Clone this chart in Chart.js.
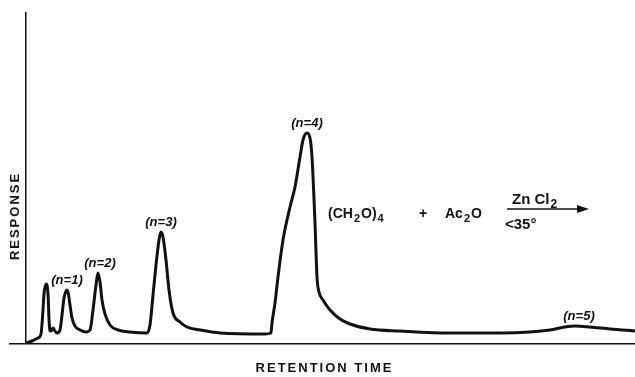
<!DOCTYPE html>
<html>
<head>
<meta charset="utf-8">
<script src="https://cdn.jsdelivr.net/npm/chart.js@4.4.1/dist/chart.umd.min.js"></script>
<style>
  html, body { margin: 0; padding: 0; background: #fff; }
  #wrap { width: 635px; height: 377px; position: relative; }
</style>
</head>
<body>
<div id="wrap"><canvas id="chart"></canvas></div>
<script>
/* Chromatogram of the (CH2O)4 + Ac2O reaction products, redrawn from the
 * paper figure. Time and response are in arbitrary units. */

const retentionTime = [
  0, 0.6, 1.2, 1.5, 1.7, 1.8, 2.0, 2.2, 2.3, 2.4, 2.6, 2.7, 2.9, 3.1,
  3.4, 3.6, 3.8, 4.0, 4.1, 4.2, 4.4, 4.6, 4.9, 5.4, 6.0,
  6.4, 6.7, 7.0, 7.2, 7.4, 7.6, 7.9, 8.4, 9.2, 10.4, 12.1,
  12.4, 12.7, 13.0, 13.3, 13.5, 13.7, 14.0, 14.3, 14.7, 15.4, 16.1, 17.4, 19.4, 23.9,
  24.5, 24.6, 24.9, 25.2, 25.7, 26.4, 26.9, 27.4, 27.7, 28.1, 28.4, 28.6, 28.9, 29.1,
  29.3, 29.7, 30.4, 31.4, 32.4, 34.4, 37.4, 42.4, 47.4,
  50.4, 52.4, 53.9, 54.9, 56.4, 58.4, 60.9
];
const response = [
  1, 3, 6, 10, 34, 50, 60, 50, 25, 13, 14, 16, 13, 11,
  14, 29, 46, 53, 54, 52, 39, 26, 18, 14, 12,
  14, 34, 59, 71, 62, 44, 30, 19, 14, 12, 11,
  19, 49, 79, 104, 112, 107, 84, 54, 31, 22, 17, 14, 11, 10,
  11, 21, 41, 67, 104, 137, 157, 187, 204, 211, 206, 187, 121, 67,
  52, 44, 34, 25, 20, 15, 13, 11, 11,
  12, 14, 17, 18, 17, 15, 13
];

// Peak labels, anchored at the top of each peak.
const peakLabels = ['(n=1)', '(n=2)', '(n=3)', '(n=4)', '(n=5)'];
const peakTimes  = [4.1, 7.4, 13.5, 28.1, 55.3];
const peakTops   = [54, 71, 112, 211, 18];

const xLabel = 'RETENTION TIME';
const yLabel = 'RESPONSE';

const points = retentionTime.map((t, i) => ({ x: t, y: response[i] }));

const INK = '#111';

// Draw a run of [text, isSubscript] pieces starting at x, baseline y.
const drawPieces = (ctx, pieces, x, y, size) => {
  pieces.forEach(([txt, sub]) => {
    ctx.font = `bold ${sub ? size - 3 : size}px "Liberation Sans", Arial, sans-serif`;
    ctx.fillText(txt, x, sub ? y + 4 : y);
    x += ctx.measureText(txt).width + 1;
  });
  return x;
};

const annotations = {
  id: 'annotations',
  afterDatasetsDraw(chart) {
    const { ctx, scales: { x, y } } = chart;
    ctx.save();
    ctx.fillStyle = INK;
    ctx.strokeStyle = INK;

    // peak labels
    ctx.font = 'italic bold 13px "Liberation Sans", Arial, sans-serif';
    ctx.textAlign = 'center';
    ctx.textBaseline = 'bottom';
    peakLabels.forEach((label, i) => {
      ctx.fillText(label, x.getPixelForValue(peakTimes[i]), y.getPixelForValue(peakTops[i]) - 3);
    });

    // axis titles
    ctx.font = 'bold 13px "Liberation Sans", Arial, sans-serif';
    ctx.letterSpacing = '2px';
    ctx.textBaseline = 'middle';
    ctx.fillText(xLabel, (chart.chartArea.left + chart.chartArea.right) / 2 + 2, 368);
    ctx.save();
    ctx.translate(15, 216);
    ctx.rotate(-Math.PI / 2);
    ctx.fillText(yLabel, 0, 0);
    ctx.restore();
    ctx.letterSpacing = '0px';

    // reaction scheme
    ctx.textAlign = 'left';
    ctx.textBaseline = 'alphabetic';
    drawPieces(ctx, [['(CH', false], ['2', true], ['O)', false], ['4', true]], 328, 218, 14);
    drawPieces(ctx, [['+', false]], 419, 218, 14);
    drawPieces(ctx, [['Ac', false], ['2', true], ['O', false]], 445, 218, 14);
    drawPieces(ctx, [['Zn Cl', false], ['2', true]], 512, 204, 15);
    drawPieces(ctx, [['<35°', false]], 505, 229, 15);

    ctx.lineWidth = 1.5;
    ctx.beginPath();
    ctx.moveTo(507, 209);
    ctx.lineTo(582, 209);
    ctx.stroke();
    ctx.beginPath();
    ctx.moveTo(589, 209);
    ctx.lineTo(577, 205);
    ctx.lineTo(577, 213);
    ctx.closePath();
    ctx.fill();

    ctx.restore();
  }
};

new Chart(document.getElementById('chart'), {
  type: 'line',
  data: {
    datasets: [{
      data: points,
      borderColor: INK,
      borderWidth: 3,
      pointRadius: 0,
      fill: false,
      cubicInterpolationMode: 'monotone'
    }]
  },
  options: {
    responsive: true,
    maintainAspectRatio: false,
    animation: false,
    layout: { padding: { top: 12, left: 10, right: 0, bottom: 33 } },
    plugins: { legend: { display: false }, tooltip: { enabled: false } },
    scales: {
      x: {
        type: 'linear',
        min: -1.6,
        max: 60.9,
        // only one "grid line": the response axis at t = 0
        afterBuildTicks: axis => { axis.ticks = [{ value: 0 }]; },
        ticks: { display: false },
        grid: { color: INK, lineWidth: 1.5, drawTicks: false },
        border: { color: INK, width: 1.5 }
      },
      y: {
        display: false,
        min: 0,
        max: 332
      }
    }
  },
  plugins: [annotations]
});
</script>
</body>
</html>
